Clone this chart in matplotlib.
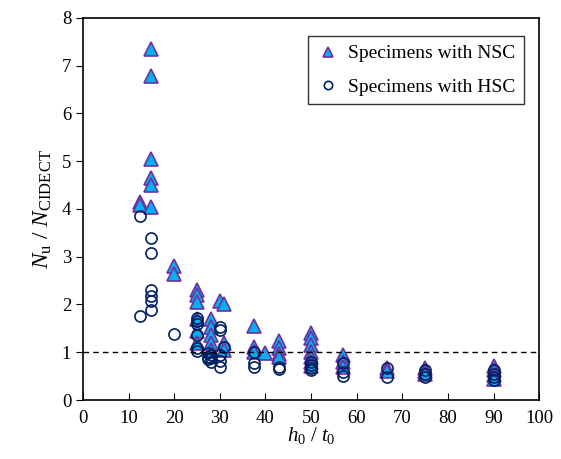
import matplotlib
matplotlib.use("Agg")
import matplotlib.pyplot as plt

plt.rcParams['font.family'] = ['Liberation Serif', 'DejaVu Serif']
plt.rcParams['mathtext.fontset'] = 'custom'
plt.rcParams['mathtext.rm'] = 'Liberation Serif'
plt.rcParams['mathtext.it'] = 'Liberation Serif:italic'

# NSC specimens (triangles)
nsc_x = [12.5, 12.5,
         15, 15, 15, 15, 15, 15,
         20, 20,
         25, 25, 25, 25, 25, 25,
         28, 28, 28, 28, 28,
         30, 31, 31, 31,
         37.5, 37.5, 37.5,
         40,
         43, 43, 43, 43,
         50, 50, 50, 50, 50, 50, 50,
         57, 57, 57,
         66.7, 66.7,
         75, 75, 75,
         90, 90, 90, 90]
nsc_y = [4.15, 4.08,
         7.35, 6.78, 5.05, 4.65, 4.5, 4.05,
         2.8, 2.63,
         2.3, 2.2, 2.05, 1.7, 1.45, 1.2,
         1.7, 1.53, 1.36, 1.2, 1.05,
         2.07, 2.0, 1.2, 1.05,
         1.55, 1.1, 1.0,
         0.98,
         1.24, 1.09, 0.96, 0.9,
         1.4, 1.3, 1.15, 1.0, 0.9, 0.8, 0.72,
         0.95, 0.8, 0.7,
         0.68, 0.6,
         0.68, 0.6, 0.55,
         0.72, 0.62, 0.52, 0.45]

# HSC specimens (circles)
hsc_x = [12.5, 12.5,
         15, 15, 15, 15, 15, 15,
         20,
         25, 25, 25, 25, 25, 25,
         27.5, 27.5, 27.5, 28, 28, 28,
         30, 30, 30, 30, 30, 31,
         37.5, 37.5, 37.5,
         43, 43,
         50, 50, 50, 50,
         57, 57, 57,
         66.7, 66.7,
         75, 75, 75,
         90, 90, 90, 90]
hsc_y = [3.85, 1.76,
         3.39, 3.08, 2.3, 2.18, 2.07, 1.88,
         1.38,
         1.72, 1.66, 1.6, 1.36, 1.08, 1.03,
         0.98, 0.9, 0.85, 0.95, 0.88, 0.8,
         1.53, 1.47, 0.95, 0.82, 0.69, 1.1,
         1.0, 0.77, 0.69,
         0.69, 0.64,
         0.8, 0.73, 0.68, 0.63,
         0.78, 0.59, 0.5,
         0.67, 0.48,
         0.62, 0.55, 0.48,
         0.62, 0.55, 0.48, 0.42]

fig = plt.figure(figsize=(5.61, 4.59), dpi=100)
ax = fig.add_axes([0.148, 0.1285, 0.813, 0.8325])

ax.plot(nsc_x, nsc_y, linestyle='none', marker='^', markersize=9.5,
        markerfacecolor='#00B0F0', markeredgecolor='#7030A0', markeredgewidth=1.2,
        label='Specimens with NSC')
ax.plot(hsc_x, hsc_y, linestyle='none', marker='o', markersize=8,
        markerfacecolor='none', markeredgecolor='#002060', markeredgewidth=1.2,
        label='Specimens with HSC')

ax.axhline(1.0, color='black', linestyle=(0, (4, 3)), linewidth=1.0)

ax.set_xlim(0, 100)
ax.set_ylim(0, 8)
ax.set_xticks(range(0, 101, 10))
ax.set_yticks(range(0, 9, 1))
ax.tick_params(axis='x', direction='in', labelsize=13.5, length=5, pad=7)
ax.tick_params(axis='y', direction='out', labelsize=13.5, length=5)
for s in ax.spines.values():
    s.set_linewidth(1.2)

ax.set_xlabel(r'$h_0\ /\ t_0$', fontsize=15, labelpad=-1)
ax.set_ylabel(r'$N_{\mathrm{u}}\ /\ N_{\mathrm{CIDECT}}$', fontsize=17, labelpad=6)

leg = ax.legend(loc='upper right', bbox_to_anchor=(0.988, 0.978), fontsize=14,
                frameon=True, fancybox=False, edgecolor='black',
                handletextpad=0.4, borderpad=0.45, labelspacing=0.8, handlelength=1.2,
                markerscale=0.75)
leg.get_frame().set_linewidth(1.0)

fig.savefig('out.png', dpi=100)
